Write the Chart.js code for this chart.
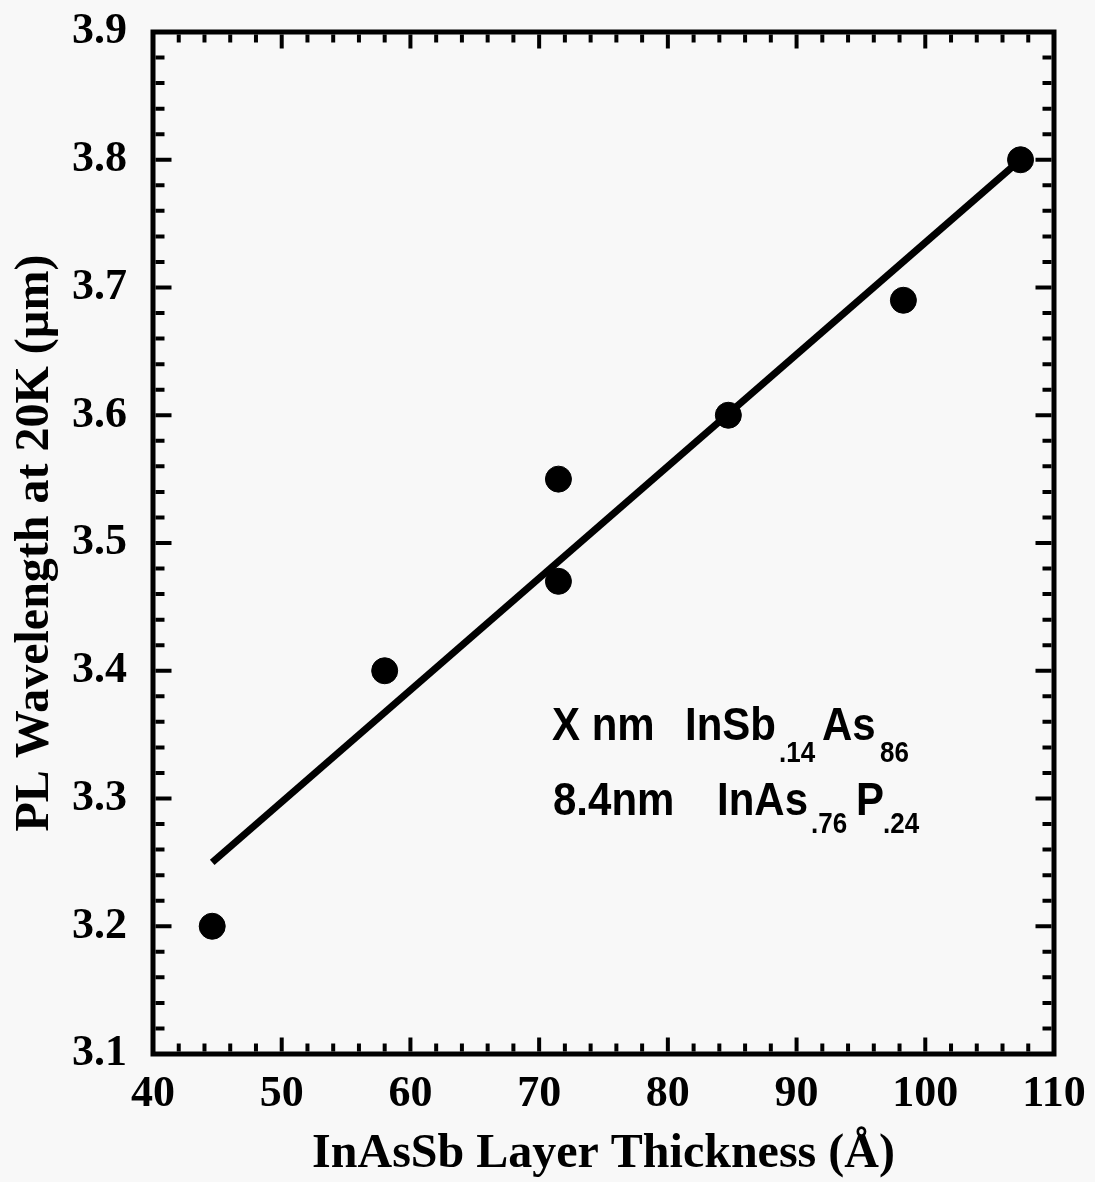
<!DOCTYPE html>
<html>
<head>
<meta charset="utf-8">
<script src="https://cdn.jsdelivr.net/npm/chart.js@4.4.1/dist/chart.umd.min.js"></script>
<style>
  html, body { margin: 0; padding: 0; background: #f8f8f8; }
  #wrap { width: 1095px; height: 1182px; }
</style>
</head>
<body>
<div id="wrap"><canvas id="plChart"></canvas></div>
<script>
// measured points (thickness in Angstrom, PL wavelength in um)
const thickness = [44.6, 58.0, 71.5, 71.5, 84.7, 98.3, 107.4];
const wavelength = [3.20, 3.40, 3.55, 3.47, 3.60, 3.69, 3.80];

// linear fit line, end points
const fitX = [44.6, 107.4];
const fitY = [3.25, 3.80];

const xTitle = 'InAsSb Layer Thickness (\u00C5)';
const yTitle = 'PL Wavelength at 20K (\u00B5m)';

const serif = '"Liberation Serif", "Times New Roman", serif';
const sans = '"Liberation Sans", Arial, sans-serif';

// background + frame with inward ticks on all four sides
const framePlugin = {
    id: 'frame',
    beforeDraw(chart) {
        const ctx = chart.ctx;
        ctx.save();
        ctx.fillStyle = '#f8f8f8';
        ctx.fillRect(0, 0, chart.width, chart.height);
        ctx.restore();
    },
    afterDatasetsDraw(chart) {
        const ctx = chart.ctx;
        const a = chart.chartArea;
        const xs = chart.scales.x, ys = chart.scales.y;
        ctx.save();
        ctx.strokeStyle = '#000';
        ctx.lineWidth = 5;
        ctx.strokeRect(a.left, a.top, a.right - a.left, a.bottom - a.top);

        ctx.lineWidth = 4;
        const inset = 2.5;
        // x ticks (every 2, major every 10)
        for (let v = 40; v <= 110; v += 2) {
            const px = xs.getPixelForValue(v);
            const len = (v % 10 === 0) ? 14 : 8;
            ctx.beginPath();
            ctx.moveTo(px, a.bottom - inset); ctx.lineTo(px, a.bottom - inset - len);
            ctx.moveTo(px, a.top + inset); ctx.lineTo(px, a.top + inset + len);
            ctx.stroke();
        }
        // y ticks (every 0.02, major every 0.1)
        for (let i = 0; i <= 40; i++) {
            const v = 3.1 + i * 0.02;
            const py = ys.getPixelForValue(v);
            const len = (i % 5 === 0) ? 16 : 9;
            ctx.beginPath();
            ctx.moveTo(a.left + inset, py); ctx.lineTo(a.left + inset + len, py);
            ctx.moveTo(a.right - inset, py); ctx.lineTo(a.right - inset - len, py);
            ctx.stroke();
        }
        ctx.restore();
    },
    afterDraw(chart) {
        // layer structure note (source text is a bit taller than wide)
        const ctx = chart.ctx;
        const stretch = 1.12;
        ctx.save();
        ctx.fillStyle = '#000';
        ctx.textBaseline = 'alphabetic';
        ctx.textAlign = 'left';
        const big = 'bold 42px ' + sans;
        const small = 'bold 26px ' + sans;
        const parts = [
            ['X nm', big, 552, 740],
            ['InSb', big, 685, 740],
            ['.14', small, 779, 762],
            ['As', big, 822, 740],
            ['86', small, 880, 762],
            ['8.4nm', big, 553, 815],
            ['InAs', big, 717, 815],
            ['.76', small, 811, 833],
            ['P', big, 856, 815],
            ['.24', small, 883, 833]
        ];
        for (const [t, f, x, y] of parts) {
            ctx.save();
            ctx.translate(x, y);
            ctx.scale(1, stretch);
            ctx.font = f;
            ctx.fillText(t, 0, 0);
            ctx.restore();
        }
        ctx.restore();
    }
};

function noScalePadding(scale) {
    scale.paddingLeft = 0;
    scale.paddingRight = 0;
    scale.paddingTop = 0;
    scale.paddingBottom = 0;
}

const ctx = document.getElementById('plChart').getContext('2d');
new Chart(ctx, {
    type: 'scatter',
    data: {
        datasets: [
            {
                label: 'fit',
                data: fitX.map((x, i) => ({ x: x, y: fitY[i] })),
                showLine: true,
                borderColor: '#000',
                borderWidth: 7,
                borderCapStyle: 'butt',
                pointRadius: 0,
                order: 2
            },
            {
                label: 'PL',
                data: thickness.map((x, i) => ({ x: x, y: wavelength[i] })),
                backgroundColor: '#000',
                borderColor: '#000',
                pointRadius: 13,
                pointHoverRadius: 13,
                order: 1
            }
        ]
    },
    options: {
        responsive: true,
        maintainAspectRatio: false,
        animation: false,
        layout: { padding: { top: 32, right: 41, left: 0, bottom: 0 } },
        plugins: {
            legend: { display: false },
            tooltip: { enabled: false }
        },
        scales: {
            x: {
                type: 'linear',
                min: 40,
                max: 110,
                grid: { display: false, drawTicks: false },
                border: { display: false },
                ticks: {
                    stepSize: 10,
                    padding: 14,
                    color: '#000',
                    font: { family: serif, size: 44, weight: 'bold' },
                    maxRotation: 0
                },
                title: {
                    display: true,
                    text: xTitle,
                    color: '#000',
                    font: { family: serif, size: 48, weight: 'bold', lineHeight: 1 },
                    padding: { top: 0, bottom: 3 }
                },
                afterFit(scale) {
                    scale.height = 128;
                    noScalePadding(scale);
                }
            },
            y: {
                type: 'linear',
                min: 3.1,
                max: 3.9,
                grid: { display: false, drawTicks: false },
                border: { display: false },
                ticks: {
                    stepSize: 0.1,
                    padding: 26,
                    color: '#000',
                    font: { family: serif, size: 44, weight: 'bold' },
                    callback: v => Number(v).toFixed(1)
                },
                title: {
                    display: true,
                    text: yTitle,
                    color: '#000',
                    font: { family: serif, size: 48, weight: 'bold', lineHeight: 1 },
                    padding: { top: 12, bottom: 0 }
                },
                afterFit(scale) {
                    scale.width = 153;
                    noScalePadding(scale);
                }
            }
        }
    },
    plugins: [framePlugin]
});
</script>
</body>
</html>
